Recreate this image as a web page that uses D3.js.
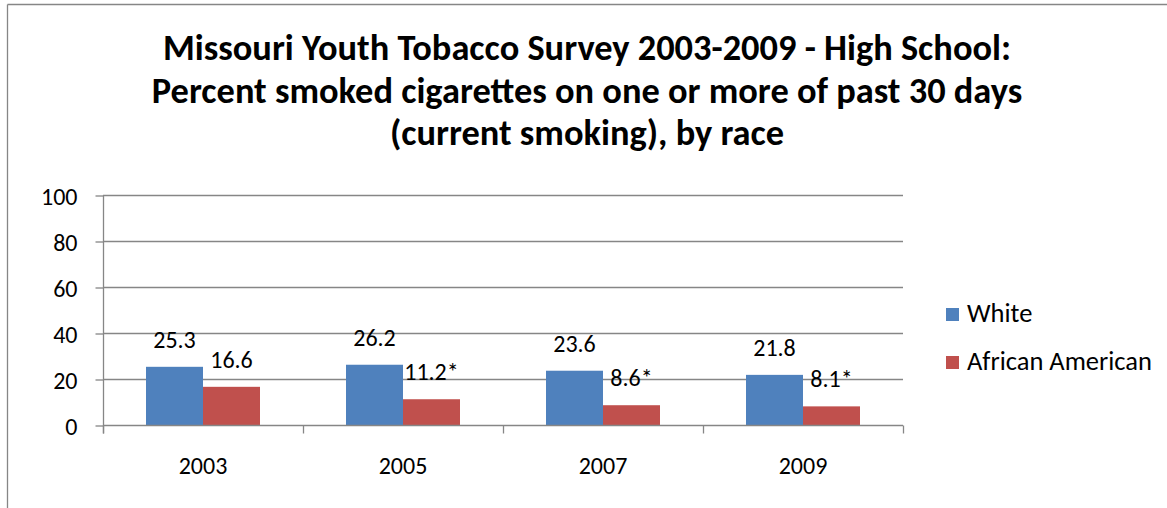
<!DOCTYPE html>
<html>
<head>
<meta charset="utf-8">
<script src="https://cdn.jsdelivr.net/npm/d3@7/dist/d3.min.js"></script>
<style>
  html, body { margin: 0; padding: 0; background: #fff; }
  svg { display: block; }
  text { font-family: Carlito, Lato, "Open Sans", sans-serif; fill: #000; }
</style>
</head>
<body>
<svg id="chart" width="1167" height="508"></svg>
<script>
// Survey years (categories)
const years = ["2003", "2005", "2007", "2009"];
// Series names
const seriesNames = ["White", "African American"];
// Percent current smoking by race
const whiteValues = [25.3, 26.2, 23.6, 21.8];
const africanAmericanValues = [16.6, 11.2, 8.6, 8.1];
// Significance markers for the African American series
const africanAmericanMarks = ["", "*", "*", "*"];
// Y axis ticks
const yTicks = [0, 20, 40, 60, 80, 100];
const titleLines = [
  "Missouri Youth Tobacco Survey 2003-2009 - High School:",
  "Percent smoked cigarettes on one or more of past 30 days",
  "(current smoking), by race"
];
const colors = ["#4F81BD", "#C0504D"];
const gridColor = "#868686";

const svg = d3.select("#chart");

// Frame around the chart object
svg.append("line").attr("x1", 7.5).attr("x2", 1167).attr("y1", 4.5).attr("y2", 4.5)
  .attr("stroke", gridColor).attr("stroke-width", 1.3);
svg.append("line").attr("x1", 7.5).attr("x2", 7.5).attr("y1", 4.5).attr("y2", 508)
  .attr("stroke", gridColor).attr("stroke-width", 1.3);

// Title
const title = svg.append("text").attr("text-anchor", "middle")
  .style("font-weight", "bold").style("font-size", "36.4px");
titleLines.forEach((t, i) => {
  title.append("tspan").attr("x", 587).attr("y", 60 + i * 42.5).text(t);
});

const plot = { left: 103, right: 903, top: 195, bottom: 425 };

const x0 = d3.scaleBand().domain(years).range([plot.left, plot.right]);
const x1 = d3.scaleBand().domain(seriesNames).range([43, 157]);
const y = d3.scaleLinear().domain([0, 100]).range([plot.bottom, plot.top]);

// Gridlines
svg.append("g")
  .selectAll("line").data(yTicks.filter(d => d > 0)).join("line")
  .attr("x1", plot.left).attr("x2", plot.right)
  .attr("y1", d => y(d) + 0.5).attr("y2", d => y(d) + 0.5)
  .attr("stroke", gridColor).attr("stroke-width", 1.3);

// Y axis
const yAxis = svg.append("g")
  .attr("transform", `translate(${plot.left + 0.5},0.5)`)
  .call(d3.axisLeft(y).tickValues(yTicks).tickSize(8).tickPadding(18).tickSizeOuter(0));
yAxis.select(".domain").attr("stroke", gridColor).attr("stroke-width", 1.3)
  .attr("d", `M0,${plot.top}V${plot.bottom + 8}`);
yAxis.selectAll(".tick line").attr("stroke", gridColor).attr("stroke-width", 1.3);
yAxis.selectAll(".tick text").style("font-size", "24px")
  .style("font-family", "Carlito, Lato, sans-serif").attr("fill", "#000").attr("dy", "0.36em");

// Bars
const rows = years.map((yr, i) => ({
  year: yr,
  values: [
    { name: seriesNames[0], value: whiteValues[i], label: String(whiteValues[i]) },
    { name: seriesNames[1], value: africanAmericanValues[i], label: africanAmericanValues[i] + africanAmericanMarks[i] }
  ]
}));

const groups = svg.append("g").selectAll("g").data(rows).join("g")
  .attr("transform", d => `translate(${x0(d.year)},0)`);

groups.selectAll("rect").data(d => d.values).join("rect")
  .attr("x", d => x1(d.name))
  .attr("width", x1.bandwidth())
  .attr("y", d => y(d.value))
  .attr("height", d => y(0) - y(d.value))
  .attr("fill", (d, i) => colors[i]);

groups.selectAll("text").data(d => d.values).join("text")
  .attr("x", d => x1(d.name) + x1.bandwidth() / 2)
  .attr("y", d => y(d.value) - 19)
  .attr("text-anchor", "middle")
  .style("font-size", "24px")
  .text(d => d.label);

// X axis
const xAxis = svg.append("g")
  .attr("transform", `translate(0,${plot.bottom + 0.5})`);
xAxis.append("line").attr("x1", plot.left).attr("x2", plot.right)
  .attr("stroke", gridColor).attr("stroke-width", 1.3);
xAxis.selectAll("line.tk").data(d3.range(years.length + 1)).join("line")
  .attr("class", "tk")
  .attr("x1", i => plot.left + 0.5 + i * x0.bandwidth())
  .attr("x2", i => plot.left + 0.5 + i * x0.bandwidth())
  .attr("y1", 0).attr("y2", 8)
  .attr("stroke", gridColor).attr("stroke-width", 1.3);
xAxis.selectAll("text").data(years).join("text")
  .attr("x", d => x0(d) + x0.bandwidth() / 2)
  .attr("y", 48)
  .attr("text-anchor", "middle")
  .style("font-size", "24px")
  .text(d => d);

// Legend
const legend = svg.append("g").selectAll("g").data(seriesNames).join("g")
  .attr("transform", (d, i) => `translate(946,${308 + i * 48})`);
legend.append("rect").attr("width", 13).attr("height", 13).attr("fill", (d, i) => colors[i]);
legend.append("text").attr("x", 21).attr("y", 14).style("font-size", "26.5px").text(d => d);
</script>
</body>
</html>
